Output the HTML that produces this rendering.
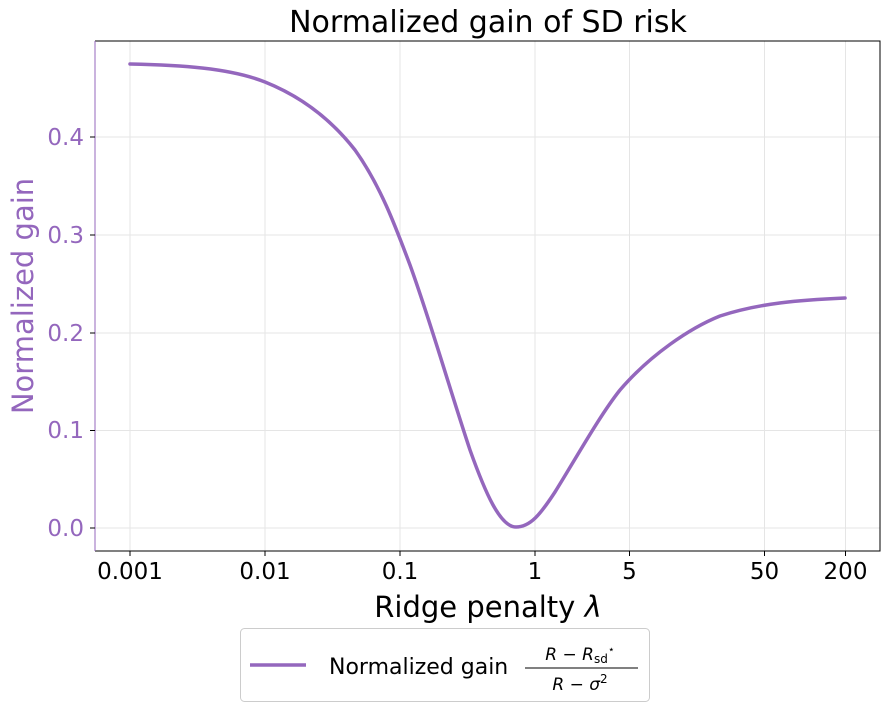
<!DOCTYPE html>
<html><head><style>body{margin:0;background:#fff}svg text{font-family:"DejaVu Sans","Liberation Sans",sans-serif}</style></head><body>
<svg width="889" height="712" xmlns="http://www.w3.org/2000/svg">
<g stroke="#e5e5e5" stroke-width="1">
<line x1="130" y1="41" x2="130" y2="551"/><line x1="265" y1="41" x2="265" y2="551"/><line x1="400" y1="41" x2="400" y2="551"/><line x1="535" y1="41" x2="535" y2="551"/><line x1="629.5" y1="41" x2="629.5" y2="551"/><line x1="764.5" y1="41" x2="764.5" y2="551"/><line x1="845.5" y1="41" x2="845.5" y2="551"/>
<line x1="95" y1="528" x2="880" y2="528"/><line x1="95" y1="430.5" x2="880" y2="430.5"/><line x1="95" y1="333" x2="880" y2="333"/><line x1="95" y1="235" x2="880" y2="235"/><line x1="95" y1="137" x2="880" y2="137"/>
</g>
<path d="M95,41H880V551H95" fill="none" stroke="#000" stroke-width="1"/>
<line x1="95" y1="41" x2="95" y2="551" stroke="#9467bd" stroke-width="1"/>
<path fill="none" stroke="#9467bd" stroke-width="3.5" stroke-linecap="round" d="M130,64 C180,65 230,68 265,82 C300,96 330,118 355,150 C380,185 395,225 410,265 C430,320 450,390 470,450 C485,492 500,527 516,527 C530,527 540,515 555,492 C575,460 600,415 620,390 C650,355 690,328 720,316 C760,303 800,300 845,298"/>
<g stroke="#000"><line x1="130" y1="551" x2="130" y2="556"/><line x1="265" y1="551" x2="265" y2="556"/><line x1="400" y1="551" x2="400" y2="556"/><line x1="535" y1="551" x2="535" y2="556"/><line x1="629.5" y1="551" x2="629.5" y2="556"/><line x1="764.5" y1="551" x2="764.5" y2="556"/><line x1="845.5" y1="551" x2="845.5" y2="556"/></g>
<g stroke="#000"><line x1="90" y1="528" x2="95" y2="528"/><line x1="90" y1="430.5" x2="95" y2="430.5"/><line x1="90" y1="333" x2="95" y2="333"/><line x1="90" y1="235" x2="95" y2="235"/><line x1="90" y1="137" x2="95" y2="137"/></g>
<g font-size="23" text-anchor="middle" fill="#000">
<text x="130" y="579">0.001</text><text x="265" y="579">0.01</text><text x="400" y="579">0.1</text><text x="535" y="579">1</text><text x="629.5" y="579">5</text><text x="764.5" y="579">50</text><text x="845.5" y="579">200</text></g>
<g font-size="23" text-anchor="end" fill="#9467bd">
<text x="84" y="536">0.0</text><text x="84" y="438">0.1</text><text x="84" y="341">0.2</text><text x="84" y="243">0.3</text><text x="84" y="145">0.4</text></g>
<text x="488" y="32" font-size="30" text-anchor="middle">Normalized gain of SD risk</text>
<text x="488" y="617" font-size="29" text-anchor="middle">Ridge penalty <tspan font-style="italic">λ</tspan></text>
<text transform="translate(33,296) rotate(-90)" font-size="29" text-anchor="middle" fill="#9467bd">Normalized gain</text>
<rect x="240.5" y="628.5" width="409" height="73" rx="4" fill="#fff" stroke="#ccc"/>
<line x1="250" y1="665" x2="306" y2="665" stroke="#9467bd" stroke-width="3.5"/>
<text x="329" y="674" font-size="22">Normalized gain</text>
<text x="580" y="660" font-size="17" font-family="Liberation Serif,serif" font-style="italic" text-anchor="middle">R − R<tspan font-style="normal" font-size="12" dy="3">sd</tspan><tspan font-size="11" dy="-10">⋆</tspan></text>
<line x1="525" y1="668" x2="638" y2="668" stroke="#000" stroke-width="1"/>
<text x="580" y="690" font-size="17" font-family="Liberation Serif,serif" font-style="italic" text-anchor="middle">R − σ<tspan font-style="normal" font-size="12" dy="-7">2</tspan></text>
</svg>
</body></html>
